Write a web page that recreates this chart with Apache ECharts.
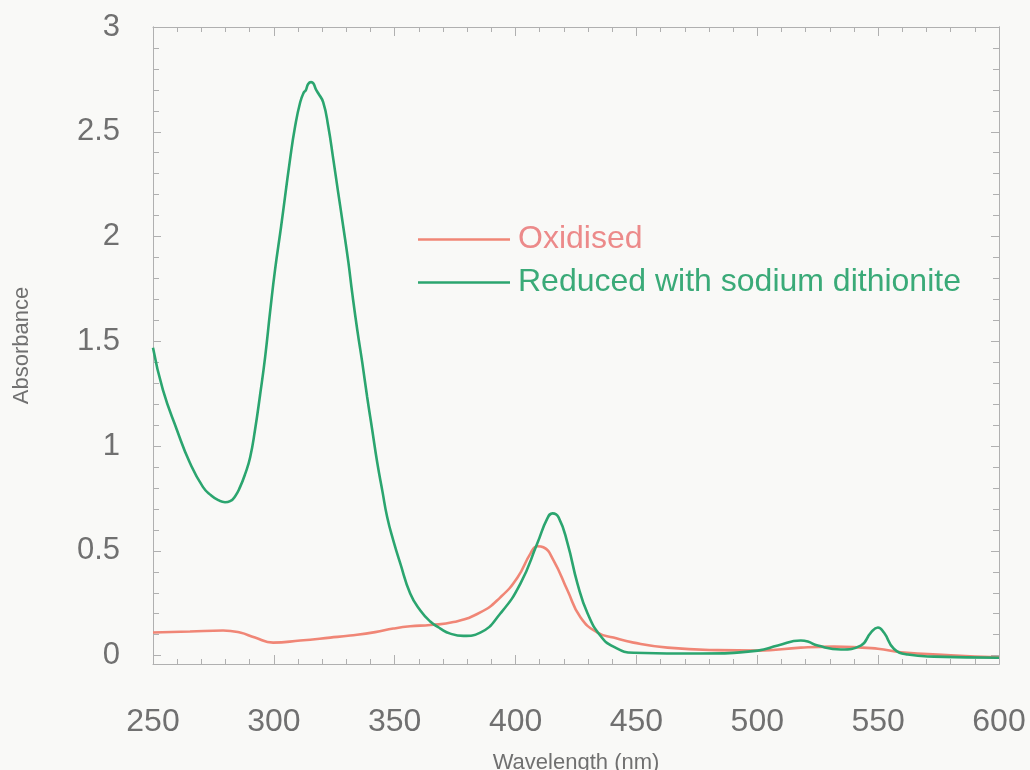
<!DOCTYPE html>
<html>
<head>
<meta charset="utf-8">
<title>Absorbance spectra</title>
<script src="https://cdn.jsdelivr.net/npm/echarts@6/dist/echarts.min.js"></script>
<style>
  html, body { margin: 0; padding: 0; background: #f9f9f7; }
  #chart { width: 1030px; height: 770px; }
</style>
</head>
<body>
<div id="chart"></div>
<script>
// Oxidised spectrum: wavelength (nm) and absorbance
const oxidisedNm  = [250, 265.3, 279.0, 286.0, 292.2, 299.7, 310.9, 323.3, 331.6, 341.9, 349.4, 356.4, 364.7, 374.3, 385.4, 393.7, 400.8, 406.2, 409.0, 411.5, 415.7, 421.5, 426.9, 433.9, 440.5, 448.8, 462.9, 483.6, 500.2, 518.0, 531.7, 549.9, 559.4, 580.1, 600];
const oxidisedAbs = [0.110, 0.115, 0.120, 0.110, 0.086, 0.062, 0.072, 0.086, 0.096, 0.112, 0.129, 0.140, 0.146, 0.160, 0.206, 0.278, 0.373, 0.488, 0.522, 0.517, 0.455, 0.311, 0.182, 0.110, 0.086, 0.062, 0.038, 0.026, 0.024, 0.038, 0.043, 0.033, 0.016, 0.002, -0.008];

// Reduced (sodium dithionite) spectrum: wavelength (nm) and absorbance
const reducedNm  = [250, 254.1, 259.9, 265.3, 270.7, 274.0, 277.0, 279.8, 281.9, 284.0, 286.0, 288.1, 290.2, 292.2, 294.3, 296.4, 298.5, 300.5, 303.0, 306.7, 308.8, 310.9, 312.4, 313.2, 314.2, 315.4, 316.3, 317.3, 318.3, 320.4, 322.5, 324.6, 326.6, 328.7, 330.8, 332.4, 334.5, 336.6, 338.6, 340.7, 342.8, 344.9, 346.9, 349.4, 352.3, 356.4, 360.6, 364.7, 368.9, 373.0, 378.4, 385.4, 393.7, 402.0, 409.0, 413.2, 415.3, 417.8, 421.5, 425.6, 429.8, 435.1, 440.5, 448.8, 476.6, 500.2, 508.5, 518.0, 520.9, 525.0, 534.6, 542.8, 547.0, 549.9, 552.4, 556.5, 562.3, 573.1, 600];
const reducedAbs = [1.469, 1.268, 1.077, 0.919, 0.804, 0.765, 0.742, 0.732, 0.737, 0.761, 0.804, 0.866, 0.947, 1.077, 1.244, 1.426, 1.646, 1.842, 2.048, 2.368, 2.526, 2.641, 2.688, 2.698, 2.728, 2.737, 2.732, 2.705, 2.685, 2.641, 2.526, 2.368, 2.211, 2.048, 1.880, 1.732, 1.555, 1.397, 1.234, 1.077, 0.919, 0.785, 0.660, 0.550, 0.440, 0.297, 0.215, 0.163, 0.129, 0.105, 0.094, 0.110, 0.201, 0.344, 0.536, 0.656, 0.679, 0.660, 0.536, 0.344, 0.201, 0.095, 0.043, 0.014, 0.010, 0.024, 0.048, 0.072, 0.067, 0.048, 0.029, 0.048, 0.110, 0.134, 0.110, 0.033, 0.005, -0.005, -0.010];

// Axis tick positions and labels
const yMajorTicks = [0, 0.5, 1, 1.5, 2, 2.5, 3];
const yMinorTicks = [0.1, 0.2, 0.3, 0.4, 0.6, 0.7, 0.8, 0.9, 1.1, 1.2, 1.3, 1.4, 1.6, 1.7, 1.8, 1.9, 2.1, 2.2, 2.3, 2.4, 2.6, 2.7, 2.8, 2.9];

const seriesNames = ['Oxidised', 'Reduced with sodium dithionite'];
const lineColors = ['#f08676', '#2ba56f'];
const textColors = ['#ec8a8a', '#3aaa78'];

const pairs = (xs, ys) => xs.map((x, i) => [x, ys[i]]);

const FONT = '"Liberation Sans", Arial, Helvetica, sans-serif';
const AXIS_COLOR = '#b0b0b0';
const LABEL_COLOR = '#707070';
const Y_MIN = -0.04, Y_MAX = 3;

function yAxisDef(position, ticks, len, withLabels) {
  return {
    type: 'value', position, min: Y_MIN, max: Y_MAX,
    axisLine: { show: true, onZero: false, lineStyle: { color: AXIS_COLOR, width: 1 } },
    axisTick: { show: true, inside: true, length: len, customValues: ticks, lineStyle: { color: AXIS_COLOR } },
    axisLabel: withLabels ? {
      show: true, customValues: yMajorTicks, margin: 33,
      color: LABEL_COLOR, fontSize: 31, fontFamily: FONT,
      formatter: v => String(v)
    } : { show: false },
    splitLine: { show: false },
    name: withLabels ? 'Absorbance' : '',
    nameLocation: 'middle', nameGap: 120, nameRotate: 90,
    nameTextStyle: { color: LABEL_COLOR, fontSize: 22, fontFamily: FONT }
  };
}

function xAxisDef(position, withLabels) {
  return {
    type: 'value', position, min: 250, max: 600, interval: 50,
    axisLine: { show: true, onZero: false, lineStyle: { color: AXIS_COLOR, width: 1 } },
    axisTick: { show: true, inside: true, length: 9, lineStyle: { color: AXIS_COLOR } },
    minorTick: { show: true, splitNumber: 5, length: 5, lineStyle: { color: AXIS_COLOR } },
    axisLabel: withLabels ? { show: true, margin: 42, color: LABEL_COLOR, fontSize: 32, fontFamily: FONT } : { show: false },
    splitLine: { show: false },
    minorSplitLine: { show: false },
    name: withLabels ? 'Wavelength (nm)' : '',
    nameLocation: 'middle', nameGap: 88,
    nameTextStyle: { color: LABEL_COLOR, fontSize: 22, fontFamily: FONT }
  };
}

const chart = echarts.init(document.getElementById('chart'), null, { renderer: 'canvas' });
chart.setOption({
  backgroundColor: '#f9f9f7',
  animation: false,
  grid: { left: 153, right: 31, top: 27, bottom: 106, containLabel: false, outerBoundsMode: 'none' },
  legend: {
    orient: 'vertical', left: 418, top: 219, itemGap: 2, padding: 0,
    icon: 'rect', itemWidth: 92, itemHeight: 2.5,
    textStyle: { fontSize: 32, lineHeight: 41, fontFamily: FONT, padding: [0, 0, 0, 3] },
    data: seriesNames.map((n, i) => ({ name: n, textStyle: { color: textColors[i] } }))
  },
  xAxis: [xAxisDef('bottom', true), xAxisDef('top', false)],
  yAxis: [
    yAxisDef('left', yMajorTicks, 8, true),
    yAxisDef('left', yMinorTicks, 6, false),
    yAxisDef('right', yMajorTicks, 8, false),
    yAxisDef('right', yMinorTicks, 6, false)
  ],
  series: [
    {
      name: seriesNames[0], type: 'line', xAxisIndex: 0, yAxisIndex: 0,
      data: pairs(oxidisedNm, oxidisedAbs), symbol: 'none', smooth: 0.5,
      lineStyle: { color: lineColors[0], width: 2.6 }, itemStyle: { color: lineColors[0] }
    },
    {
      name: seriesNames[1], type: 'line', xAxisIndex: 0, yAxisIndex: 0,
      data: pairs(reducedNm, reducedAbs), symbol: 'none', smooth: 0.5,
      lineStyle: { color: lineColors[1], width: 2.6 }, itemStyle: { color: lineColors[1] }
    }
  ]
});
</script>
</body>
</html>
